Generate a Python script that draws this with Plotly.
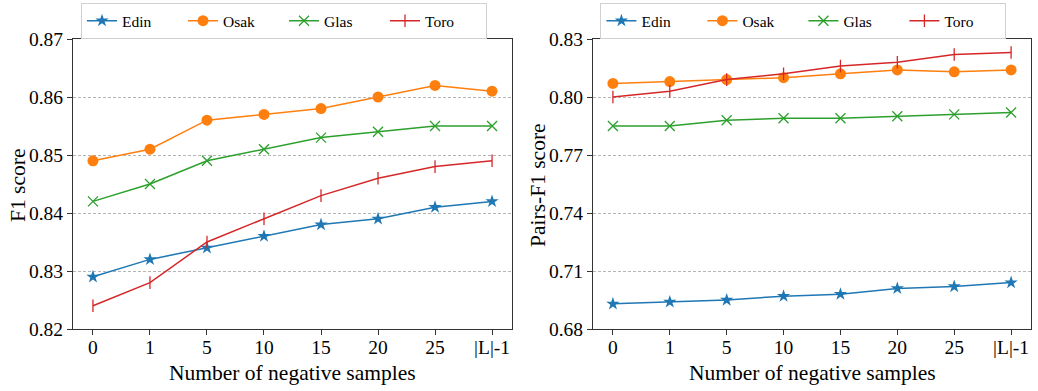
import plotly.graph_objects as go

categories = ["0", "1", "5", "10", "15", "20", "25", "|L|-1"]
series_names = ["Edin", "Osak", "Glas", "Toro"]

f1_edin = [0.829, 0.832, 0.834, 0.836, 0.838, 0.839, 0.841, 0.842]
f1_osak = [0.849, 0.851, 0.856, 0.857, 0.858, 0.860, 0.862, 0.861]
f1_glas = [0.842, 0.845, 0.849, 0.851, 0.853, 0.854, 0.855, 0.855]
f1_toro = [0.824, 0.828, 0.835, 0.839, 0.843, 0.846, 0.848, 0.849]

pf1_edin = [0.693, 0.694, 0.695, 0.697, 0.698, 0.701, 0.702, 0.704]
pf1_osak = [0.807, 0.808, 0.809, 0.810, 0.812, 0.814, 0.813, 0.814]
pf1_glas = [0.785, 0.785, 0.788, 0.789, 0.789, 0.790, 0.791, 0.792]
pf1_toro = [0.800, 0.803, 0.809, 0.812, 0.816, 0.818, 0.822, 0.823]

f1_ticks = [0.82, 0.83, 0.84, 0.85, 0.86, 0.87]
pf1_ticks = [0.68, 0.71, 0.74, 0.77, 0.80, 0.83]

x_title = "Number of negative samples"
y_titles = ["F1 score", "Pairs-F1 score"]

colors = ["#1f77b4", "#ff7f0e", "#2ca02c", "#d62728"]
symbols = ["star", "circle", "x-thin", "line-ns"]
sizes = [10, 11, 10, 9]

FONT = "Liberation Serif"
W, H = 1038, 391

fig = go.Figure()

def add_series(values, xa, ya, legend):
    for i, (name, vals) in enumerate(zip(series_names, values)):
        sym = symbols[i]
        marker = dict(symbol=sym, size=sizes[i], color=colors[i])
        if sym in ("x-thin", "line-ns"):
            marker["line"] = dict(color=colors[i], width=1.3)
        else:
            marker["line"] = dict(width=0)
        fig.add_trace(go.Scatter(
            x=list(range(len(categories))), y=vals, name=name,
            mode="lines+markers", line=dict(color=colors[i], width=1.5),
            marker=marker, xaxis=xa, yaxis=ya, legend=legend,
        ))

add_series([f1_edin, f1_osak, f1_glas, f1_toro], "x", "y", "legend")
add_series([pf1_edin, pf1_osak, pf1_glas, pf1_toro], "x2", "y2", "legend2")

axis_common = dict(
    showline=True, linecolor="#333333", linewidth=1, mirror=True,
    ticks="outside", ticklen=5, tickcolor="#333333",
    tickfont=dict(family=FONT, size=19.5, color="black"),
    zeroline=False, automargin=False,
)

xcommon = dict(axis_common, tickmode="array", tickvals=list(range(len(categories))),
               ticktext=categories, range=[-0.35, 7.35], showgrid=False,
               ticklabelstandoff=-4)

grid = dict(showgrid=True, gridcolor="#b5b5b5", griddash="3px,2px", gridwidth=0.8)

xdom1 = [73 / W, 512 / W]
xdom2 = [593 / W, 1031 / W]
ydom = [1 - 329 / H, 1 - 39 / H]

title_font = dict(family=FONT, size=21.5, color="black")
annotations = [
    dict(text=x_title, x=(xdom1[0] + xdom1[1]) / 2, y=1 - 373 / H, xref="paper", yref="paper",
         xanchor="center", yanchor="middle", showarrow=False, font=title_font),
    dict(text=x_title, x=(xdom2[0] + xdom2[1]) / 2, y=1 - 373 / H, xref="paper", yref="paper",
         xanchor="center", yanchor="middle", showarrow=False, font=title_font),
    dict(text=y_titles[0], x=18 / W, y=1 - 185 / H, xref="paper", yref="paper",
         xanchor="center", yanchor="middle", showarrow=False, font=title_font, textangle=-90),
    dict(text=y_titles[1], x=538 / W, y=1 - 185 / H, xref="paper", yref="paper",
         xanchor="center", yanchor="middle", showarrow=False, font=title_font, textangle=-90),
]

legend_common = dict(orientation="h", xanchor="center", y=0.992, yanchor="top",
                     bordercolor="#d0d0d0", borderwidth=1, bgcolor="white",
                     font=dict(family=FONT, size=15.5, color="black"), entrywidth=56)

fig.update_layout(
    width=W, height=H,
    margin=dict(l=0, r=0, t=0, b=0, autoexpand=False),
    plot_bgcolor="white", paper_bgcolor="white",
    font=dict(family=FONT),
    showlegend=True,
    annotations=annotations,
    xaxis=dict(xcommon, domain=xdom1, anchor="y"),
    xaxis2=dict(xcommon, domain=xdom2, anchor="y2"),
    yaxis=dict(axis_common, **grid, domain=ydom, range=[0.82, 0.87],
               tickvals=f1_ticks, ticktext=[f"{v:.2f}" for v in f1_ticks], anchor="x"),
    yaxis2=dict(axis_common, **grid, domain=ydom, range=[0.68, 0.83],
                tickvals=pf1_ticks, ticktext=[f"{v:.2f}" for v in pf1_ticks], anchor="x2"),
    legend=dict(legend_common, x=0.2736),
    legend2=dict(legend_common, x=0.774),
)

fig.write_html("out.html")
